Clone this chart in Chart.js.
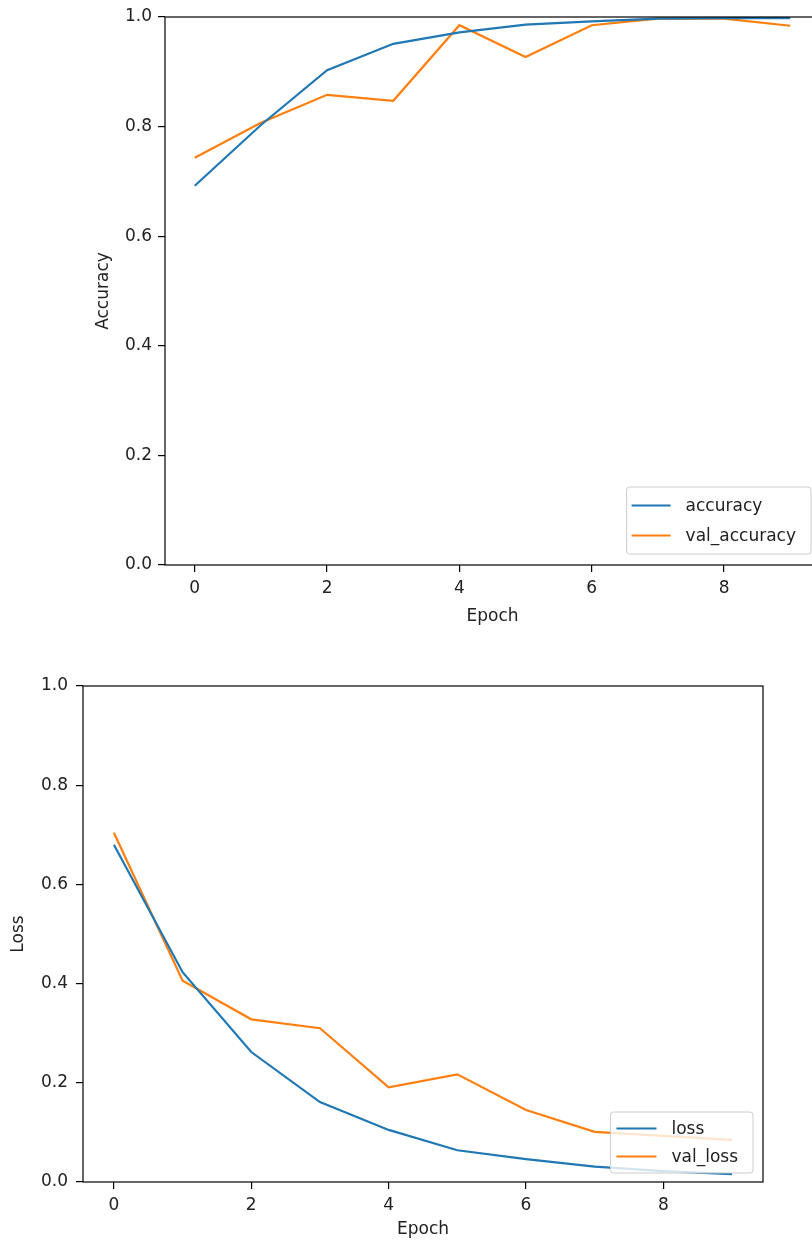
<!DOCTYPE html>
<html>
<head>
<meta charset="utf-8">
<script src="https://cdn.jsdelivr.net/npm/chart.js@4.4.1/dist/chart.umd.min.js"></script>
<style>
body{margin:0;background:#fff;overflow:hidden;}
.box{position:absolute;left:0;width:812px;overflow:hidden;}
canvas{display:block;}
</style>
</head>
<body>

<div class="box" style="top:0;height:640px;">
<canvas id="accChart" width="832" height="640"></canvas>
</div>

<div class="box" style="top:640px;height:600px;">
<canvas id="lossChart" width="812" height="600"></canvas>
</div>

<script>

/* -------- DATA -------- */

const epochs = [0,1,2,3,4,5,6,7,8,9];

const accuracy    = [0.692,0.803,0.903,0.951,0.972,0.986,0.992,0.997,0.998,0.998];
const valAccuracy = [0.743,0.807,0.858,0.847,0.985,0.927,0.985,0.997,0.997,0.984];

const loss    = [0.680,0.423,0.262,0.161,0.105,0.064,0.046,0.031,0.022,0.016];
const valLoss = [0.704,0.406,0.328,0.310,0.191,0.217,0.145,0.101,0.093,0.085];

const xTicks = [0,2,4,6,8];
const yTicks = [0,0.2,0.4,0.6,0.8,1.0];

const blue = "#1f77b4";
const orange = "#ff7f0e";
const font = "'DejaVu Sans', sans-serif";


/* -------- PLUGINS -------- */

// matplotlib style box round the axes
const frame = {
id: "frame",
afterDraw(chart){
const a = chart.chartArea;
const ctx = chart.ctx;
ctx.save();
ctx.strokeStyle = "#000";
ctx.lineWidth = 1.2;
ctx.strokeRect(a.left, a.top, a.right-a.left, a.bottom-a.top);
ctx.restore();
}
};

// legend inside the axes, lower right
const boxLegend = {
id: "boxLegend",
afterDraw(chart, args, o){
const ctx = chart.ctx;
const a = chart.chartArea;
const sets = chart.data.datasets;
ctx.save();
ctx.font = "17px " + font;
let tw = 0;
sets.forEach(s => { tw = Math.max(tw, ctx.measureText(s.label).width); });
const w = o.padLeft + o.handle + o.gap + tw + o.padRight;
const h = o.rowH * sets.length + o.padV * 2;
const x = a.right - o.insetX - w;
const y = a.bottom - o.insetY - h;

ctx.beginPath();
ctx.roundRect(x, y, w, h, 3);
ctx.fillStyle = "rgba(255,255,255,0.8)";
ctx.fill();
ctx.strokeStyle = "#cccccc";
ctx.lineWidth = 1;
ctx.stroke();

sets.forEach((s, i) => {
const cy = y + o.padV + o.rowH * i + o.rowH / 2;
ctx.beginPath();
ctx.moveTo(x + o.padLeft, cy);
ctx.lineTo(x + o.padLeft + o.handle, cy);
ctx.strokeStyle = s.borderColor;
ctx.lineWidth = 2.2;
ctx.stroke();
ctx.fillStyle = "#222";
ctx.textBaseline = "middle";
ctx.textAlign = "left";
ctx.fillText(s.label, x + o.padLeft + o.handle + o.gap, cy + 1);
});
ctx.restore();
}
};


/* -------- CHART -------- */

function points(vals){
return vals.map((v, i) => ({x: epochs[i], y: v}));
}

function drawChart(id, names, series, yTitle, lay){

const ctx = document.getElementById(id);

return new Chart(ctx, {

type: "line",

data: {
datasets: [
{label: names[0], data: points(series[0]), borderColor: blue, borderWidth: 2.2, pointRadius: 0, tension: 0},
{label: names[1], data: points(series[1]), borderColor: orange, borderWidth: 2.2, pointRadius: 0, tension: 0}
]
},

options: {
responsive: false,
animation: false,
devicePixelRatio: 1,
layout: {padding: {top: lay.top, right: lay.right, left: 0, bottom: 0}},
plugins: {
legend: {display: false},
tooltip: {enabled: false},
boxLegend: lay.legend
},
scales: {
x: {
type: "linear",
min: -0.45,
max: 9.45,
afterBuildTicks: s => { s.ticks = xTicks.map(v => ({value: v})); },
afterFit: s => { s.height = lay.xHeight; },
grid: {drawOnChartArea: false, drawTicks: true, tickLength: 7, color: "#000", lineWidth: 1.2},
border: {display: false},
ticks: {padding: 6, color: "#222", font: {family: font, size: 17}, maxRotation: 0},
title: {display: true, text: "Epoch", color: "#222", font: {family: font, size: 17}, padding: {top: 0, bottom: lay.xTitlePad}}
},
y: {
min: 0,
max: 1,
afterBuildTicks: s => { s.ticks = yTicks.map(v => ({value: v})); },
afterFit: s => { s.width = lay.yWidth; },
grid: {drawOnChartArea: false, drawTicks: true, tickLength: 7, color: "#000", lineWidth: 1.2},
border: {display: false},
ticks: {padding: lay.yPad, color: "#222", font: {family: font, size: 17}, callback: v => v.toFixed(1)},
title: {display: true, text: yTitle, color: "#222", font: {family: font, size: 17}, padding: {top: lay.yTitlePad, bottom: 0}}
}
}
},

plugins: [frame, boxLegend]

});

}

drawChart("accChart", ["accuracy", "val_accuracy"], [accuracy, valAccuracy], "Accuracy", {
top: 17, right: 12, xHeight: 75, xTitlePad: 13, yWidth: 165, yPad: 6, yTitlePad: 93,
legend: {padLeft: 5, handle: 39, gap: 15, padRight: 15, rowH: 30, padV: 3.5, insetX: 9, insetY: 11}
});

drawChart("lossChart", ["loss", "val_loss"], [loss, valLoss], "Loss", {
top: 46, right: 49, xHeight: 58, xTitlePad: 0, yWidth: 83, yPad: 8, yTitlePad: 8,
legend: {padLeft: 6, handle: 40, gap: 15, padRight: 15, rowH: 28, padV: 2.5, insetX: 10, insetY: 9}
});

</script>
</body>
</html>
